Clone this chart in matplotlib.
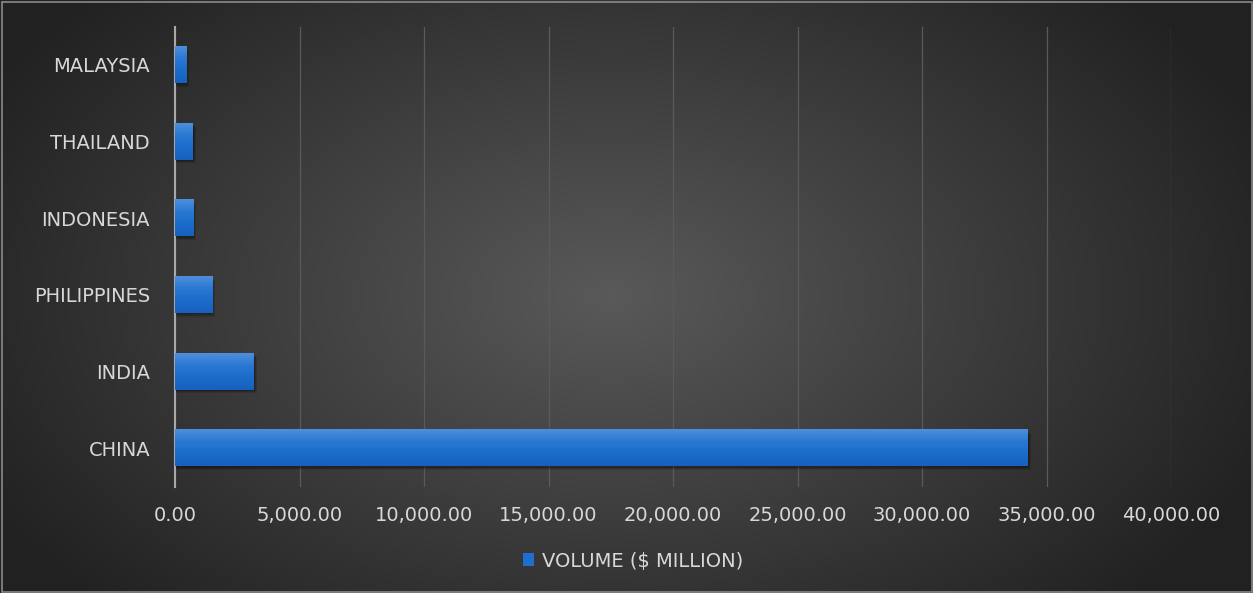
import numpy as np
import matplotlib
matplotlib.use("Agg")
import matplotlib.pyplot as plt
from matplotlib.patches import Rectangle
import matplotlib.ticker as mticker
from matplotlib.colors import LinearSegmentedColormap

countries = ["CHINA", "INDIA", "PHILIPPINES", "INDONESIA", "THAILAND", "MALAYSIA"]
volume = [34250, 3170, 1490, 730, 720, 450]
series_name = "VOLUME ($ MILLION)"
xticks = [0, 5000, 10000, 15000, 20000, 25000, 30000, 35000, 40000]

W, H = 1253, 593
plt.rcParams['font.family'] = ['DejaVu Sans']
fig = plt.figure(figsize=(W / 100, H / 100), dpi=100)

# radial gradient background
bg = fig.add_axes([0, 0, 1, 1], zorder=-10)
yy, xx = np.mgrid[0:H, 0:W]
cx, cy = 610, 295
r = np.sqrt(((xx - cx) / 720.0) ** 2 + ((yy - cy) / 440.0) ** 2)
v = np.clip(0.35 - 0.22 * r, 0.13, 0.36)
img = np.dstack([v, v, v])
bg.imshow(img, aspect='auto', extent=[0, W, H, 0])
bg.add_patch(Rectangle((1.5, 1.5), W - 3, H - 3, fill=False, edgecolor='#8a8a8a', lw=1.2))
bg.set_xlim(0, W); bg.set_ylim(H, 0)
bg.axis('off')

left, right, top, bottom = 175, 1171, 26.5, 486.5
ax = fig.add_axes([left / W, 1 - bottom / H, (right - left) / W, (bottom - top) / H])
ax.set_facecolor('none')
ax.patch.set_alpha(0)

ypos = np.arange(len(countries))
bh = 0.47

grad = np.linspace(0, 1, 64).reshape(-1, 1)
cmap = LinearSegmentedColormap.from_list('b', ['#1860bd', '#1b6ccb', '#2a78d3', '#4e8fdc'])
for y, val in zip(ypos, volume):
    # soft shadow
    for k, a in [(0.05, 0.12), (0.035, 0.15), (0.02, 0.2)]:
        ax.add_patch(Rectangle((0, y - bh / 2 - k), val + 2500 * k, bh, facecolor='black',
                               alpha=a, lw=0, zorder=2))
    ax.imshow(grad, cmap=cmap, aspect='auto', extent=[0, val, y - bh / 2, y + bh / 2],
              origin='lower', zorder=3, interpolation='bilinear')
ax.set_xlim(0, 40000)
ax.set_ylim(-0.5, len(countries) - 0.5)

ax.set_xticks(xticks)
ax.xaxis.set_major_formatter(mticker.FuncFormatter(lambda x, p: f"{x:,.2f}"))
ax.set_yticks(ypos)
ax.set_yticklabels(countries)
ax.tick_params(axis='both', length=0, colors='#d8d8d8', labelsize=14)
ax.tick_params(axis='x', pad=14)
ax.tick_params(axis='y', pad=18)
ax.grid(axis='x', color='#5a5a5a', lw=0.9, zorder=0)
for s in ['top', 'right', 'bottom']:
    ax.spines[s].set_visible(False)
ax.spines['left'].set_color('#a8a8a8')
ax.spines['left'].set_linewidth(1.5)

handle = Rectangle((0, 0), 1, 1, facecolor='#1f6fd0')
fig.legend([handle], [series_name], loc='center', bbox_to_anchor=(633 / W, 1 - 561 / H),
           frameon=False, labelcolor='#d8d8d8', fontsize=14, handlelength=0.6, handleheight=0.6,
           handletextpad=0.4)

fig.savefig('out.png', dpi=100)
